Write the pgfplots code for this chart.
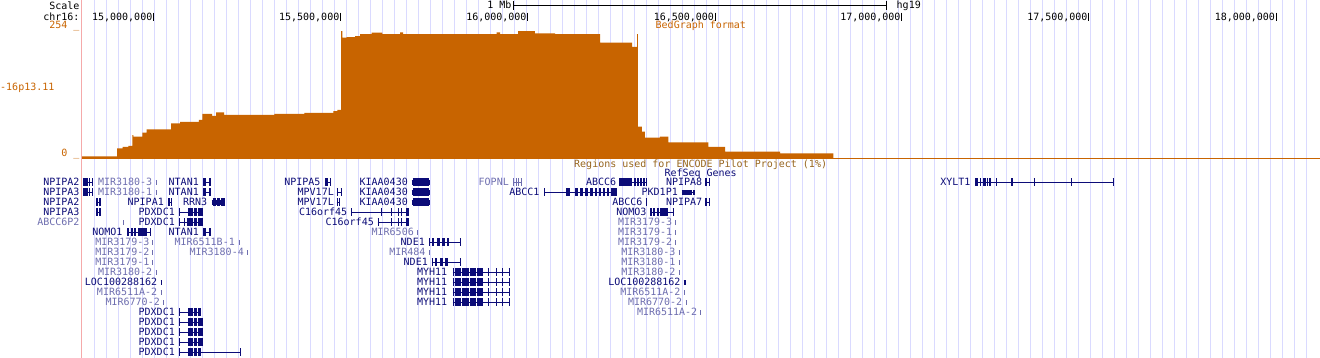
\documentclass[border=0pt]{standalone}
\usepackage{fontspec}
\usepackage{pgfplots}
\pgfplotsset{compat=1.18}
\setmainfont{DejaVu Sans Mono}
\definecolor{navy}{RGB}{12,12,120}
\definecolor{lite}{RGB}{110,110,175}
\definecolor{grd}{RGB}{218,218,255}
\definecolor{org}{RGB}{200,100,0}
\definecolor{enc}{RGB}{150,100,30}
\definecolor{pnk}{RGB}{245,170,170}

\pgfplotstableread[row sep=\\]{
x y\\
14.8094 3\\ 14.9030 19\\ 14.9182 22\\ 14.9332 24\\ 14.9439 45\\ 14.9465 42\\
14.9706 50\\ 14.9824 56.5\\ 15.0473 68\\ 15.0714 71\\ 15.1221 75\\ 15.1310 87\\
15.1569 83\\ 15.1676 90\\ 15.1890 85\\ 15.3234 87\\ 15.4036 89\\ 15.4811 92.5\\
15.4918 95\\ 15.5017 250\\ 15.5052 237\\ 15.5169 238\\ 15.5391 240\\ 15.5525 244\\
15.5838 247\\ 15.6121 244\\ 15.6594 247.5\\ 15.6674 244\\ 15.9179 247.5\\ 15.9267 244\\
15.9748 250\\ 16.0202 245.5\\ 16.0737 244\\ 16.1940 227\\ 16.2795 219\\ 16.2929 244\\
16.2955 61.6\\ 16.3062 51.8\\ 16.3142 40\\ 16.3543 42\\ 16.3765 31\\ 16.4834 22\\
16.5281 12.4\\ 16.6751 9.3\\ 16.8176 0\\
}\bedgraph

\tikzset{
  R/.style={anchor=base east, inner sep=0pt, xshift=0.7pt, text=navy},
  RL/.style={anchor=base east, inner sep=0pt, xshift=0.7pt, text=lite},
  LW/.style={anchor=base west, inner sep=0pt},
}

\begin{document}
\begin{tikzpicture}[font=\fontsize{10}{12}\selectfont]
\begin{axis}[name=main, at={(0,0)}, anchor=north west, scale only axis,
  width=1320pt, height=358pt, xmin=0, xmax=1320, ymin=0, ymax=358, y dir=reverse,
  hide axis, clip=false, unbounded coords=jump]
% guide lines
\addplot[ycomb, grd, line width=1pt, no markers] coordinates {
(94.5,358) (106.5,358) (118.5,358) (130.5,358) (142.5,358) (154.5,358) (166.5,358) (178.5,358)
(190.5,358) (202.5,358) (214.5,358) (226.5,358) (238.5,358) (250.5,358) (262.5,358) (274.5,358)
(286.5,358) (298.5,358) (310.5,358) (322.5,358) (334.5,358) (346.5,358) (358.5,358) (370.5,358)
(382.5,358) (394.5,358) (406.5,358) (418.5,358) (430.5,358) (442.5,358) (454.5,358) (466.5,358)
(478.5,358) (490.5,358) (502.5,358) (514.5,358) (526.5,358) (538.5,358) (550.5,358) (562.5,358)
(574.5,358) (586.5,358) (598.5,358) (610.5,358) (622.5,358) (634.5,358) (646.5,358) (658.5,358)
(670.5,358) (682.5,358) (694.5,358) (706.5,358) (718.5,358) (730.5,358) (742.5,358) (754.5,358)
(766.5,358) (778.5,358) (790.5,358) (802.5,358) (814.5,358) (826.5,358) (838.5,358) (850.5,358)
(862.5,358) (874.5,358) (886.5,358) (898.5,358) (910.5,358) (922.5,358) (934.5,358) (946.5,358)
(958.5,358) (970.5,358) (982.5,358) (994.5,358) (1006.5,358) (1018.5,358) (1030.5,358) (1042.5,358)
(1054.5,358) (1066.5,358) (1078.5,358) (1090.5,358) (1102.5,358) (1114.5,358) (1126.5,358) (1138.5,358)
(1150.5,358) (1162.5,358) (1174.5,358) (1186.5,358) (1198.5,358) (1210.5,358) (1222.5,358) (1234.5,358)
(1246.5,358) (1258.5,358) (1270.5,358) (1282.5,358) (1294.5,358) (1306.5,358)};
% left boundary
\addplot[pnk, line width=1pt] coordinates {(81.5,0) (81.5,358)};
% orange baseline
\addplot[org, line width=1pt] coordinates {(82,158) (1320,158)};
% ruler and position ticks
\addplot[black, line width=1pt] table[row sep=\\]{x y\\
513 5\\ 887 5\\ nan nan\\ 513.5 1\\ 513.5 9.5\\ nan nan\\ 886.5 1\\ 886.5 9.5\\ nan nan\\
153.5 12.5\\ 153.5 20.7\\ nan nan\\ 340.5 12.5\\ 340.5 20.7\\ nan nan\\ 527.5 12.5\\ 527.5 20.7\\ nan nan\\
715 12.5\\ 715 20.7\\ nan nan\\ 901.5 12.5\\ 901.5 20.7\\ nan nan\\ 1088.5 12.5\\ 1088.5 20.7\\ nan nan\\
1276 12.5\\ 1276 20.7\\
};
% navy introns
\addplot[navy, line width=1pt] table[row sep=\\]{x y\\
83 182\\ 93 182\\ nan nan\\ 203.3 182\\ 210.7 182\\ nan nan\\ 325 182\\ 331 182\\ nan nan\\
619 182\\ 646.7 182\\ nan nan\\ 705 182\\ 710 182\\ nan nan\\ 975 182\\ 1113.5 182\\ nan nan\\
83 192\\ 93 192\\ nan nan\\ 203.3 192\\ 210.7 192\\ nan nan\\ 336.7 192\\ 342.3 192\\ nan nan\\
544 192\\ 616.7 192\\ nan nan\\ 681.7 192\\ 695 192\\ nan nan\\
96 202\\ 101 202\\ nan nan\\ 168.3 202\\ 171.7 202\\ nan nan\\ 211.7 202\\ 225 202\\ nan nan\\
336.7 202\\ 340 202\\ nan nan\\ 705 202\\ 710 202\\ nan nan\\
96 212\\ 101 212\\ nan nan\\ 179.3 212\\ 202.7 212\\ nan nan\\ 351 212\\ 409 212\\ nan nan\\
650 212\\ 673.3 212\\ nan nan\\
179.3 222\\ 202.7 222\\ nan nan\\ 377.7 222\\ 409 222\\ nan nan\\
127 232\\ 150.7 232\\ nan nan\\ 203.3 232\\ 210.7 232\\ nan nan\\
429 242\\ 460.7 242\\ nan nan\\ 431.7 262\\ 460.7 262\\ nan nan\\
452.7 272\\ 509.5 272\\ nan nan\\ 452.7 282\\ 509.5 282\\ nan nan\\
452.7 292\\ 509.5 292\\ nan nan\\ 452.7 302\\ 509.5 302\\ nan nan\\
179.3 312\\ 201 312\\ nan nan\\ 179.3 322\\ 202.7 322\\ nan nan\\ 179.3 332\\ 202.7 332\\ nan nan\\
179.3 342\\ 202.7 342\\ nan nan\\ 179.3 352\\ 241 352\\
};
% navy exons
\addplot[navy, line width=8pt] table[row sep=\\]{x y\\
83.3 182\\ 87.5 182\\ nan nan\\ 89 182\\ 90 182\\ nan nan\\ 92.3 182\\ 93.3 182\\ nan nan\\
203.3 182\\ 206 182\\ nan nan\\ 209.3 182\\ 210.7 182\\ nan nan\\ 325 182\\ 327.5 182\\ nan nan\\
329.5 182\\ 331 182\\ nan nan\\ 412.5 182\\ 428.5 182\\ nan nan\\ 619 182\\ 632 182\\ nan nan\\
633.5 182\\ 635.5 182\\ nan nan\\ 637 182\\ 638.5 182\\ nan nan\\ 640 182\\ 641.5 182\\ nan nan\\
643 182\\ 644.5 182\\ nan nan\\ 645.7 182\\ 646.7 182\\ nan nan\\ 705 182\\ 707 182\\ nan nan\\
708.7 182\\ 710 182\\ nan nan\\ 975.3 182\\ 978.3 182\\ nan nan\\ 979.5 182\\ 980.5 182\\ nan nan\\
983 182\\ 985.7 182\\ nan nan\\ 986.7 182\\ 987.7 182\\ nan nan\\ 988.7 182\\ 990.7 182\\ nan nan\\
996.3 182\\ 997.3 182\\ nan nan\\ 1011 182\\ 1012.7 182\\ nan nan\\ 1033.5 182\\ 1034.5 182\\ nan nan\\
1071.2 182\\ 1072.2 182\\ nan nan\\ 1112.5 182\\ 1113.5 182\\ nan nan\\
83.3 192\\ 87.5 192\\ nan nan\\ 89 192\\ 90 192\\ nan nan\\ 92.3 192\\ 93.3 192\\ nan nan\\
203.3 192\\ 206 192\\ nan nan\\ 209.3 192\\ 210.7 192\\ nan nan\\ 336.7 192\\ 337.7 192\\ nan nan\\
340.5 192\\ 342.3 192\\ nan nan\\ 412.5 192\\ 428.5 192\\ nan nan\\ 544 192\\ 545 192\\ nan nan\\
566 192\\ 570 192\\ nan nan\\ 575 192\\ 578 192\\ nan nan\\ 580 192\\ 583 192\\ nan nan\\
585 192\\ 588 192\\ nan nan\\ 590 192\\ 593 192\\ nan nan\\ 595 192\\ 597 192\\ nan nan\\
599 192\\ 601 192\\ nan nan\\ 603 192\\ 605 192\\ nan nan\\ 607 192\\ 609 192\\ nan nan\\
610.5 192\\ 616.7 192\\ nan nan\\
96 202\\ 98.3 202\\ nan nan\\ 99.3 202\\ 101 202\\ nan nan\\ 168.3 202\\ 170 202\\ nan nan\\
170.8 202\\ 171.7 202\\ nan nan\\ 212.5 202\\ 216 202\\ nan nan\\ 217 202\\ 220 202\\ nan nan\\
221 202\\ 224.5 202\\ nan nan\\ 336.7 202\\ 337.7 202\\ nan nan\\ 339 202\\ 340 202\\ nan nan\\
412.5 202\\ 428.5 202\\ nan nan\\ 645.7 202\\ 646.7 202\\ nan nan\\ 705 202\\ 707 202\\ nan nan\\
708.7 202\\ 710 202\\ nan nan\\
96 212\\ 98.3 212\\ nan nan\\ 99.3 212\\ 101 212\\ nan nan\\ 179.3 212\\ 180.3 212\\ nan nan\\
188.3 212\\ 192.7 212\\ nan nan\\ 194 212\\ 196.7 212\\ nan nan\\ 198.3 212\\ 202.7 212\\ nan nan\\
351 212\\ 352 212\\ nan nan\\ 381.2 212\\ 382.2 212\\ nan nan\\ 391.2 212\\ 392.2 212\\ nan nan\\
397.8 212\\ 398.8 212\\ nan nan\\ 401.2 212\\ 402.2 212\\ nan nan\\ 406 212\\ 409 212\\ nan nan\\
650 212\\ 652 212\\ nan nan\\ 653.3 212\\ 655.3 212\\ nan nan\\ 656.7 212\\ 658.7 212\\ nan nan\\
660 212\\ 668 212\\ nan nan\\ 672.5 212\\ 673.3 212\\ nan nan\\
179.3 222\\ 180.3 222\\ nan nan\\ 184 222\\ 185 222\\ nan nan\\ 186.5 222\\ 187.5 222\\ nan nan\\
188.3 222\\ 192.7 222\\ nan nan\\ 194 222\\ 196.7 222\\ nan nan\\ 198.3 222\\ 202.7 222\\ nan nan\\
377.7 222\\ 378.7 222\\ nan nan\\ 391.2 222\\ 392.2 222\\ nan nan\\ 397.8 222\\ 398.8 222\\ nan nan\\
401.2 222\\ 402.2 222\\ nan nan\\ 406 222\\ 409 222\\ nan nan\\
127 232\\ 129.3 232\\ nan nan\\ 130.7 232\\ 133 232\\ nan nan\\ 134 232\\ 136 232\\ nan nan\\
138 232\\ 147.3 232\\ nan nan\\ 150 232\\ 150.7 232\\ nan nan\\ 203.3 232\\ 206 232\\ nan nan\\
209.3 232\\ 210.7 232\\ nan nan\\
429 242\\ 430 242\\ nan nan\\ 432 242\\ 434 242\\ nan nan\\ 437 242\\ 440 242\\ nan nan\\
442 242\\ 445 242\\ nan nan\\ 447 242\\ 449 242\\ nan nan\\ 459.8 242\\ 460.7 242\\ nan nan\\
431.7 262\\ 432.7 262\\ nan nan\\ 435 262\\ 437 262\\ nan nan\\ 440 262\\ 443 262\\ nan nan\\
445 262\\ 448 262\\ nan nan\\ 459.8 262\\ 460.7 262\\ nan nan\\
452.7 272\\ 453.7 272\\ nan nan\\ 455 272\\ 461 272\\ nan nan\\ 462 272\\ 468.5 272\\ nan nan\\
469.5 272\\ 476 272\\ nan nan\\ 477 272\\ 483.3 272\\ nan nan\\ 487.8 272\\ 488.8 272\\ nan nan\\
496.2 272\\ 497.2 272\\ nan nan\\ 502.2 272\\ 503.2 272\\ nan nan\\ 508.5 272\\ 509.5 272\\ nan nan\\
452.7 282\\ 453.7 282\\ nan nan\\ 455 282\\ 461 282\\ nan nan\\ 462 282\\ 468.5 282\\ nan nan\\
469.5 282\\ 476 282\\ nan nan\\ 477 282\\ 483.3 282\\ nan nan\\ 487.8 282\\ 488.8 282\\ nan nan\\
496.2 282\\ 497.2 282\\ nan nan\\ 502.2 282\\ 503.2 282\\ nan nan\\ 508.5 282\\ 509.5 282\\ nan nan\\
452.7 292\\ 453.7 292\\ nan nan\\ 455 292\\ 461 292\\ nan nan\\ 462 292\\ 468.5 292\\ nan nan\\
469.5 292\\ 476 292\\ nan nan\\ 477 292\\ 483.3 292\\ nan nan\\ 487.8 292\\ 488.8 292\\ nan nan\\
496.2 292\\ 497.2 292\\ nan nan\\ 502.2 292\\ 503.2 292\\ nan nan\\ 508.5 292\\ 509.5 292\\ nan nan\\
452.7 302\\ 453.7 302\\ nan nan\\ 455 302\\ 461 302\\ nan nan\\ 462 302\\ 468.5 302\\ nan nan\\
469.5 302\\ 476 302\\ nan nan\\ 477 302\\ 483.3 302\\ nan nan\\ 487.8 302\\ 488.8 302\\ nan nan\\
496.2 302\\ 497.2 302\\ nan nan\\ 502.2 302\\ 503.2 302\\ nan nan\\ 508.5 302\\ 509.5 302\\ nan nan\\
179.3 312\\ 180.3 312\\ nan nan\\ 188.3 312\\ 192.7 312\\ nan nan\\ 194 312\\ 196.7 312\\ nan nan\\
198.3 312\\ 201 312\\ nan nan\\
179.3 322\\ 180.3 322\\ nan nan\\ 188.3 322\\ 192.7 322\\ nan nan\\ 194 322\\ 196.7 322\\ nan nan\\
198.3 322\\ 202.7 322\\ nan nan\\
179.3 332\\ 180.3 332\\ nan nan\\ 188.3 332\\ 192.7 332\\ nan nan\\ 194 332\\ 196.7 332\\ nan nan\\
198.3 332\\ 202.7 332\\ nan nan\\
179.3 342\\ 180.3 342\\ nan nan\\ 188.3 342\\ 192.7 342\\ nan nan\\ 194 342\\ 196.7 342\\ nan nan\\
198.3 342\\ 202.7 342\\ nan nan\\
179.3 352\\ 180.3 352\\ nan nan\\ 188.3 352\\ 192.7 352\\ nan nan\\ 194 352\\ 196.7 352\\ nan nan\\
198.3 352\\ 201 352\\ nan nan\\ 240 352\\ 241 352\\
};
% navy UTRs and small features
\addplot[navy, line width=5pt] table[row sep=\\]{x y\\
411.5 182\\ 429.5 182\\ nan nan\\ 411.5 192\\ 429.5 192\\ nan nan\\ 411.5 202\\ 429.5 202\\ nan nan\\
211.7 202\\ 225 202\\ nan nan\\ 681.7 192\\ 691.7 192\\ nan nan\\ 693 192\\ 695 192\\ nan nan\\
160.5 282\\ 161.5 282\\ nan nan\\ 683.5 282\\ 685.5 282\\
};
% light (non-coding) genes
\addplot[lite, line width=1pt] coordinates {(513,182) (521.5,182)};
\addplot[lite, line width=8pt] table[row sep=\\]{x y\\
513 182\\ 514 182\\ nan nan\\ 515.5 182\\ 516.5 182\\ nan nan\\ 518 182\\ 519 182\\ nan nan\\
520.5 182\\ 521.5 182\\
};
\addplot[lite, line width=5pt] table[row sep=\\]{x y\\
155.5 182\\ 156.5 182\\ nan nan\\ 155.5 192\\ 156.5 192\\ nan nan\\ 123 222\\ 124 222\\ nan nan\\
417 232\\ 418 232\\ nan nan\\ 151.8 242\\ 152.8 242\\ nan nan\\ 238.5 242\\ 239.5 242\\ nan nan\\
151.8 252\\ 152.8 252\\ nan nan\\ 246.8 252\\ 247.8 252\\ nan nan\\ 429 252\\ 430 252\\ nan nan\\
151.8 262\\ 152.8 262\\ nan nan\\ 155.5 272\\ 156.5 272\\ nan nan\\ 160.5 292\\ 161.5 292\\ nan nan\\
163 302\\ 164 302\\ nan nan\\ 675.2 222\\ 676.2 222\\ nan nan\\ 675.2 232\\ 676.2 232\\ nan nan\\
675.2 242\\ 676.2 242\\ nan nan\\ 678.5 252\\ 679.5 252\\ nan nan\\ 678.5 262\\ 679.5 262\\ nan nan\\
678.5 272\\ 679.5 272\\ nan nan\\ 684 292\\ 685 292\\ nan nan\\ 685.5 302\\ 686.5 302\\ nan nan\\
700.2 312\\ 701.2 312\\
};
% header texts
\node[anchor=base east, inner sep=0pt] at (79.7,9.3) {Scale};
\node[anchor=base east, inner sep=0pt] at (79.7,20.7) {chr16:};
\node[anchor=base east, inner sep=0pt, text=org] at (79.7,28.3) {254 \_};
\node[anchor=base east, inner sep=0pt, text=org] at (79.7,156.3) {0 \_};
\node[LW, text=org] at (0,90.7) {-16p13.11};
\node[anchor=base east, inner sep=0pt] at (511.7,8.5) {1 Mb};
\node[LW] at (896.5,8.5) {hg19};
\node[anchor=base east, inner sep=0pt] at (152.5,20.5) {15,000,000};
\node[anchor=base east, inner sep=0pt] at (339.5,20.5) {15,500,000};
\node[anchor=base east, inner sep=0pt] at (526.7,20.5) {16,000,000};
\node[anchor=base east, inner sep=0pt] at (714.2,20.5) {16,500,000};
\node[anchor=base east, inner sep=0pt] at (900.7,20.5) {17,000,000};
\node[anchor=base east, inner sep=0pt] at (1087.7,20.5) {17,500,000};
\node[anchor=base east, inner sep=0pt] at (1275.2,20.5) {18,000,000};
\node[LW, text=org] at (655.5,28.5) {BedGraph format};
\node[LW, text=enc] at (574,167.3) {Regions used for ENCODE Pilot Project (1\%)};
\node[LW, text=navy] at (664.3,176.5) {RefSeq Genes};
% gene labels, navy
\node[R] at (79,185.7) {NPIPA2};
\node[R] at (198.3,185.7) {NTAN1};
\node[R] at (320,185.7) {NPIPA5};
\node[R] at (407.3,185.7) {KIAA0430};
\node[R] at (615.7,185.7) {ABCC6};
\node[R] at (701.7,185.7) {NPIPA8};
\node[R] at (970,185.7) {XYLT1};
\node[R] at (79,195.7) {NPIPA3};
\node[R] at (198.3,195.7) {NTAN1};
\node[R] at (333.3,195.7) {MPV17L};
\node[R] at (407.3,195.7) {KIAA0430};
\node[R] at (539,195.7) {ABCC1};
\node[R] at (677.3,195.7) {PKD1P1};
\node[R] at (79,205.7) {NPIPA2};
\node[R] at (163.3,205.7) {NPIPA1};
\node[R] at (206.7,205.7) {RRN3};
\node[R] at (333.3,205.7) {MPV17L};
\node[R] at (407.3,205.7) {KIAA0430};
\node[R] at (642,205.7) {ABCC6};
\node[R] at (701.7,205.7) {NPIPA7};
\node[R] at (79,215.7) {NPIPA3};
\node[R] at (174.3,215.7) {PDXDC1};
\node[R] at (346.7,215.7) {C16orf45};
\node[R] at (646,215.7) {NOMO3};
\node[R] at (174.3,225.7) {PDXDC1};
\node[R] at (373.3,225.7) {C16orf45};
\node[R] at (122,235.7) {NOMO1};
\node[R] at (198.3,235.7) {NTAN1};
\node[R] at (424.3,245.7) {NDE1};
\node[R] at (427.3,265.7) {NDE1};
\node[R] at (446.7,275.7) {MYH11};
\node[R] at (446.7,285.7) {MYH11};
\node[R] at (446.7,295.7) {MYH11};
\node[R] at (446.7,305.7) {MYH11};
\node[R] at (156.7,285.7) {LOC100288162};
\node[R] at (680,285.7) {LOC100288162};
\node[R] at (174.3,315.7) {PDXDC1};
\node[R] at (174.3,325.7) {PDXDC1};
\node[R] at (174.3,335.7) {PDXDC1};
\node[R] at (174.3,345.7) {PDXDC1};
\node[R] at (174.3,355.7) {PDXDC1};
% gene labels, light
\node[RL] at (151.7,185.7) {MIR3180-3};
\node[RL] at (508.3,185.7) {FOPNL};
\node[RL] at (151.7,195.7) {MIR3180-1};
\node[RL] at (79,225.7) {ABCC6P2};
\node[RL] at (671.7,225.7) {MIR3179-3};
\node[RL] at (413.3,235.7) {MIR6506};
\node[RL] at (671.7,235.7) {MIR3179-1};
\node[RL] at (149,245.7) {MIR3179-3};
\node[RL] at (234.3,245.7) {MIR6511B-1};
\node[RL] at (671.7,245.7) {MIR3179-2};
\node[RL] at (149,255.7) {MIR3179-2};
\node[RL] at (243.3,255.7) {MIR3180-4};
\node[RL] at (425,255.7) {MIR484};
\node[RL] at (675,255.7) {MIR3180-3};
\node[RL] at (149,265.7) {MIR3179-1};
\node[RL] at (675,265.7) {MIR3180-1};
\node[RL] at (151.7,275.7) {MIR3180-2};
\node[RL] at (675,275.7) {MIR3180-2};
\node[RL] at (156.7,295.7) {MIR6511A-2};
\node[RL] at (680,295.7) {MIR6511A-2};
\node[RL] at (159.3,305.7) {MIR6770-2};
\node[RL] at (681.7,305.7) {MIR6770-2};
\node[RL] at (696.7,315.7) {MIR6511A-2};
\end{axis}
% bedGraph track, genomic position (Mb) vs value
\begin{axis}[at={(82pt,-158pt)}, anchor=south west, scale only axis,
  width=1238pt, height=129pt, xmin=14.80942, xmax=18.11843, ymin=0, ymax=254,
  hide axis]
\addplot[const plot, fill=org, draw=none] table {\bedgraph} \closedcycle;
\end{axis}
\pgfresetboundingbox
\path[use as bounding box] (0,0) rectangle (1320pt,-358pt);
\end{tikzpicture}
\end{document}
